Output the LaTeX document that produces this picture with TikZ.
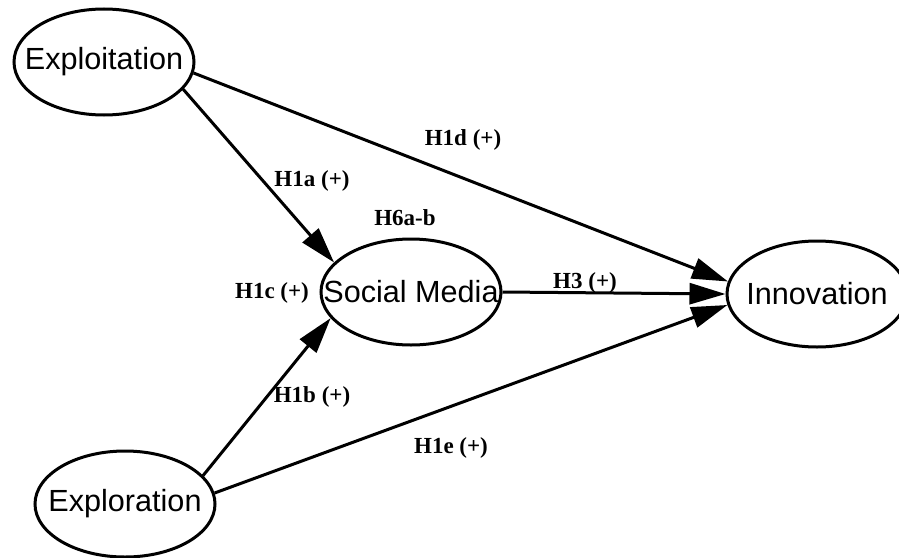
\documentclass[tikz,border=0pt]{standalone}
\usepackage{fontspec}
\setmainfont{Liberation Serif}
\setsansfont{Liberation Sans}
\usetikzlibrary{arrows.meta, shapes.geometric}

\begin{document}
\begin{tikzpicture}[
    x=0.5pt, y=-0.5pt,
    var/.style={draw, ellipse, line width=1.5pt, minimum width=90pt, minimum height=53pt, inner xsep=-20pt, inner ysep=0pt, font=\sffamily\fontsize{15.3}{18}\selectfont},
    hyp/.style={font=\bfseries\fontsize{11.5}{13}\selectfont, inner sep=1pt},
    arr/.style={-{Triangle[length=18pt, width=10.5pt]}, line width=1.5pt}
]
\useasboundingbox (0,0) rectangle (899,557);

\node[var] (expt) at (104,62) {Exploitation};
\node[var] (expn) at (125,504) {Exploration};
\node[var] (soc) at (411,292) {Social Media};
\node[var] (inno) at (817,294) {Innovation};

\draw[arr] (expt.-19) -- (soc.159);
\draw[arr] (expn.20) -- (soc.198);
\draw[arr] (soc.east) -- (inno.west);
\draw[arr] (expt.-7) -- (inno.172);
\draw[arr] (expn.7) -- (inno.187);

\node[hyp] (h1a) at (312,181) {H1a (+)};
\node[hyp] (h1b) at (312,397) {H1b (+)};
\node[hyp] (h1c) at (272,293) {H1c (+)};
\node[hyp] (h1d) at (463,140) {H1d (+)};
\node[hyp] (h1e) at (451,448) {H1e (+)};
\node[hyp] (h3) at (585,283) {H3 (+)};
\node[hyp] (h6) at (405,218) {H6a-b};
\end{tikzpicture}
\end{document}
